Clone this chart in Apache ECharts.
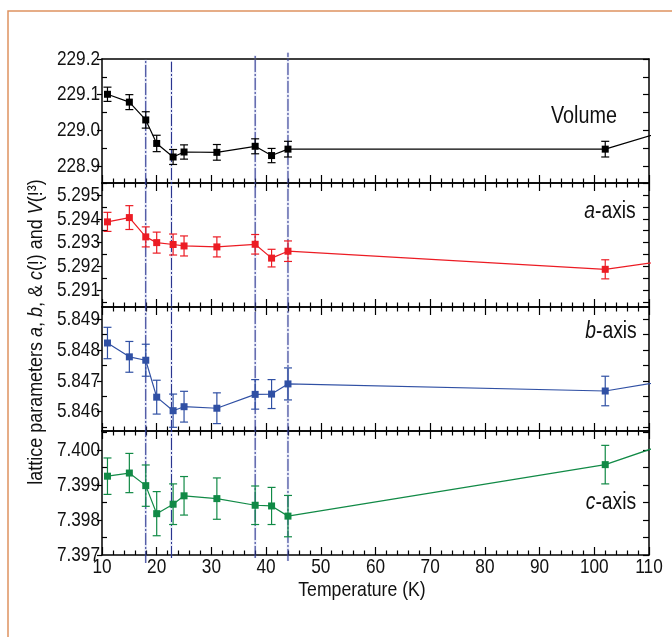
<!DOCTYPE html>
<html><head><meta charset="utf-8">
<script src="https://cdn.jsdelivr.net/npm/echarts@6/dist/echarts.min.js"></script>
<style>html,body{margin:0;padding:0;background:#fff}#c{width:672px;height:637px}</style>
</head><body><div id="c"></div>
<script>
// ---------------- data ----------------
const temperatures = [11, 15, 18, 20, 23, 25, 31, 38, 41, 44, 102];
const volume    = [229.101, 229.079, 229.029, 228.963, 228.925, 228.939, 228.938, 228.955, 228.929, 228.947, 228.947];
const volumeErr = [0.020, 0.021, 0.023, 0.023, 0.021, 0.020, 0.022, 0.021, 0.020, 0.022, 0.022];
const aAxis = [5.29387, 5.29405, 5.29324, 5.29300, 5.29292, 5.29286, 5.29282, 5.29293, 5.29235, 5.29264, 5.29188];
const aErr  = [0.00040, 0.00050, 0.00042, 0.00044, 0.00044, 0.00042, 0.00042, 0.00041, 0.00037, 0.00043, 0.00040];
const bAxis = [5.84823, 5.84778, 5.84767, 5.84647, 5.84603, 5.84616, 5.84611, 5.84656, 5.84657, 5.84690, 5.84667];
const bErr  = [0.00051, 0.00050, 0.00052, 0.00055, 0.00054, 0.00050, 0.00050, 0.00048, 0.00047, 0.00052, 0.00048];
const cAxis = [7.39925, 7.39934, 7.39898, 7.39818, 7.39845, 7.39869, 7.39861, 7.39842, 7.39840, 7.39811, 7.39958];
const cErr  = [0.00052, 0.00056, 0.00059, 0.00063, 0.00058, 0.00055, 0.00059, 0.00055, 0.00053, 0.00059, 0.00055];
// next measurement beyond the plotted range (the lines run off the right edge)
const nextTemperature = 120;
const nextValues = [229.030, 5.29247, 5.84721, 7.40054];
// vertical transition guide lines (temperature, low / high end in overlay units 0..1)
const guideTemps = [18, 22.7, 38, 44];
const guideLow   = [0.0039, 0.0136, 0.0136, 0.0078];
const guideHigh  = [0.9819, 0.9773, 0.9897, 0.9948];
// tick labels
const volumeTicks = [228.9, 229.0, 229.1, 229.2];
const volumeMinor = [228.85, 228.95, 229.05, 229.15];
const aTicks = [5.291, 5.292, 5.293, 5.294, 5.295];
const aMinor = [5.2905, 5.2915, 5.2925, 5.2935, 5.2945, 5.2955];
const bTicks = [5.846, 5.847, 5.848, 5.849];
const bMinor = [5.8455, 5.8465, 5.8475, 5.8485];
const cTicks = [7.397, 7.398, 7.399, 7.400];
const cMinor = [7.3975, 7.3985, 7.3995, 7.4005];
const xTickLabels = [10, 20, 30, 40, 50, 60, 70, 80, 90, 100, 110];
const panelNames = ['Volume', 'a-axis', 'b-axis', 'c-axis'];

// ---------------- chart ----------------
const FONT = "'Liberation Sans',Arial,sans-serif";
const NARROW = 0.82;   // condensed look of the original lettering
const TXT = '#111';
const panels = [
  {vals: volume, err: volumeErr, ticks: volumeTicks, minor: volumeMinor, min: 228.852, max: 229.2, dec: 1, color: '#000000'},
  {vals: aAxis, err: aErr, ticks: aTicks, minor: aMinor, min: 5.2903, max: 5.2955, dec: 3, color: '#ec1c24'},
  {vals: bAxis, err: bErr, ticks: bTicks, minor: bMinor, min: 5.84537, max: 5.8494, dec: 3, color: '#3050a4'},
  {vals: cAxis, err: cErr, ticks: cTicks, minor: cMinor, min: 7.397, max: 7.40054, dec: 3, color: '#118a46'}
];
const L = 102, R = 23, TOP = 59, H = 124;
const grids = [], xAxes = [], yAxes = [], series = [];
const axisLine = {show: true, lineStyle: {color: '#000', width: 1.5}};
panels.forEach((p, i) => {
  grids.push({left: L, right: R, top: TOP + i * H, height: H, containLabel: false});
  const xBase = {gridIndex: i, type: 'value', min: xTickLabels[0], max: xTickLabels[xTickLabels.length - 1], interval: 10,
    axisLine, splitLine: {show: false}, axisLabel: {show: false}};
  xAxes.push(Object.assign({}, xBase, {position: 'bottom',
    axisTick: {show: true, inside: true, length: 8, lineStyle: {color: '#000', width: 1.2}},
    minorTick: {show: true, splitNumber: 5, length: 4.5, lineStyle: {color: '#000', width: 1.2}}}));
  xAxes.push(Object.assign({}, xBase, {position: 'top',
    axisTick: {show: i > 0, inside: true, length: 8, lineStyle: {color: '#000', width: 1.2}},
    minorTick: {show: i > 0, splitNumber: 5, length: 4.5, lineStyle: {color: '#000', width: 1.2}}}));
  const yBase = {gridIndex: i, type: 'value', min: p.min, max: p.max, splitLine: {show: false}, axisLabel: {show: false}};
  yAxes.push(Object.assign({}, yBase, {position: 'left', axisLine,
    axisTick: {show: true, inside: false, length: 5, customValues: p.ticks, lineStyle: {color: '#000', width: 1.2}}}));
  yAxes.push(Object.assign({}, yBase, {position: 'left', axisLine: {show: false},
    axisTick: {show: true, inside: true, length: 5, customValues: p.minor, lineStyle: {color: '#000', width: 1.2}}}));
  yAxes.push(Object.assign({}, yBase, {position: 'right', axisLine,
    axisTick: {show: true, inside: true, length: 6, customValues: p.ticks.concat(p.minor), lineStyle: {color: '#000', width: 1.2}}}));
  const lineData = temperatures.map((t, k) => [t, p.vals[k]]).concat([[nextTemperature, nextValues[i]]]);
  series.push({type: 'line', xAxisIndex: 2 * i, yAxisIndex: 3 * i, data: lineData, clip: true,
    symbol: 'rect', symbolSize: 7, itemStyle: {color: p.color}, lineStyle: {color: p.color, width: 1.2}, z: 3});
  series.push({type: 'custom', xAxisIndex: 2 * i, yAxisIndex: 3 * i,
    data: temperatures.map((t, k) => [t, p.vals[k] - p.err[k], p.vals[k] + p.err[k]]),
    encode: {x: 0, y: [1, 2]}, z: 2,
    renderItem: (params, api) => {
      const a = api.coord([api.value(0), api.value(1)]);
      const b = api.coord([api.value(0), api.value(2)]);
      const w = 4;
      const st = {stroke: p.color, lineWidth: 1.2};
      return {type: 'group', children: [
        {type: 'line', shape: {x1: a[0], y1: a[1], x2: b[0], y2: b[1]}, style: st},
        {type: 'line', shape: {x1: a[0] - w, y1: a[1], x2: a[0] + w, y2: a[1]}, style: st},
        {type: 'line', shape: {x1: b[0] - w, y1: b[1], x2: b[0] + w, y2: b[1]}, style: st}
      ]};
    }});
});
// overlay grid for the guide lines
grids.push({left: L, right: R, top: 50, height: 515});
xAxes.push({gridIndex: 4, type: 'value', min: 10, max: 110, show: false});
yAxes.push({gridIndex: 4, type: 'value', min: 0, max: 1, show: false});
series.push({type: 'custom', xAxisIndex: 8, yAxisIndex: 12, z: 1,
  data: guideTemps.map((t, k) => [t, guideLow[k], guideHigh[k]]),
  encode: {x: 0, y: [1, 2]},
  renderItem: (params, api) => {
    const a = api.coord([api.value(0), api.value(1)]);
    const b = api.coord([api.value(0), api.value(2)]);
    const shape = {x1: a[0], y1: a[1], x2: b[0], y2: b[1]};
    return {type: 'group', children: [
      {type: 'line', shape, style: {stroke: 'rgba(120,135,210,0.2)', lineWidth: 2.5}},
      {type: 'line', shape, style: {stroke: '#26308c', lineWidth: 1, lineDash: [12, 2, 2, 2]}}
    ]};
  }});

const rich23 = {
  n: {fontFamily: FONT, fontSize: 23, fill: TXT},
  i: {fontFamily: FONT, fontSize: 23, fontStyle: 'italic', fill: TXT}
};
const graphic = [
  {type: 'rect', silent: true, shape: {x: 8, y: 11, width: 720, height: 700},
    style: {fill: 'none', stroke: '#de9260', lineWidth: 1.5}},
  {type: 'text', x: 584, y: 117, scaleX: 0.86, style: {text: panelNames[0], fontFamily: FONT, fontSize: 23, fill: TXT, align: 'center', verticalAlign: 'middle'}},
  {type: 'text', x: 610, y: 212, scaleX: 0.84, style: {text: '{i|a}{n|-axis}', rich: rich23, align: 'center', verticalAlign: 'middle'}},
  {type: 'text', x: 611, y: 332, scaleX: 0.84, style: {text: '{i|b}{n|-axis}', rich: rich23, align: 'center', verticalAlign: 'middle'}},
  {type: 'text', x: 611, y: 503, scaleX: 0.84, style: {text: '{i|c}{n|-axis}', rich: rich23, align: 'center', verticalAlign: 'middle'}},
  {type: 'text', x: 362, y: 590, scaleX: 0.84, style: {text: 'Temperature (K)', fontFamily: FONT, fontSize: 21, fill: TXT, align: 'center', verticalAlign: 'middle'}},
  {type: 'text', x: 36, y: 332, rotation: Math.PI / 2, scaleX: 0.855,
    style: {text: '{n|lattice parameters }{i|a}{n|, }{i|b}{n|, & }{i|c}{n|(!) and }{i|V}{n|(!³)}',
      rich: {n: {fontFamily: FONT, fontSize: 21, fill: TXT}, i: {fontFamily: FONT, fontSize: 21, fontStyle: 'italic', fill: TXT}},
      align: 'center', verticalAlign: 'middle'}}
];

const chart = echarts.init(document.getElementById('c'), null, {renderer: 'canvas'});
chart.setOption({animation: false, backgroundColor: '#fff', grid: grids, xAxis: xAxes, yAxis: yAxes, series, graphic});

// tick labels placed through the axes' own scales (condensed lettering)
const labels = [];
const axisLeftX = chart.convertToPixel({xAxisIndex: 0}, xTickLabels[0]);
panels.forEach((p, i) => {
  p.ticks.forEach(v => {
    const y = chart.convertToPixel({yAxisIndex: 3 * i}, v);
    labels.push({type: 'text', x: axisLeftX - 2, y: y, scaleX: NARROW,
      style: {text: v.toFixed(p.dec), fontFamily: FONT, fontSize: 21, fill: TXT, align: 'right', verticalAlign: 'middle'}});
  });
});
const bottomY = chart.convertToPixel({yAxisIndex: 9}, panels[3].min);
xTickLabels.forEach(t => {
  const x = chart.convertToPixel({xAxisIndex: 6}, t);
  labels.push({type: 'text', x: x, y: bottomY + 12, scaleX: NARROW,
    style: {text: String(t), fontFamily: FONT, fontSize: 21, fill: TXT, align: 'center', verticalAlign: 'middle'}});
});
chart.setOption({graphic: graphic.concat(labels)});
</script></body></html>
